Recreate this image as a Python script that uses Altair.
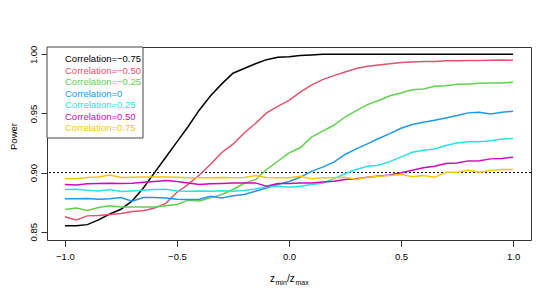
import altair as alt
import pandas as pd

# ---- data ----
z_ratio = [round(-1 + 0.05 * i, 2) for i in range(41)]

power_m075 = [0.855, 0.855, 0.856, 0.860, 0.865, 0.869, 0.876, 0.887, 0.900, 0.913,
              0.926, 0.939, 0.953, 0.965, 0.975, 0.984, 0.988, 0.992, 0.9955, 0.9975,
              0.998, 0.999, 0.9995, 1.0, 1.0, 1.0, 1.0, 1.0, 1.0, 1.0,
              1.0, 1.0, 1.0, 1.0, 1.0, 1.0, 1.0, 1.0, 1.0, 1.0, 1.0]
power_m050 = [0.8626, 0.860, 0.8634, 0.8637, 0.8646, 0.8654, 0.867, 0.8677, 0.870, 0.874,
              0.8834, 0.890, 0.898, 0.907, 0.917, 0.924, 0.9335, 0.9415, 0.9505, 0.956,
              0.961, 0.968, 0.974, 0.9786, 0.982, 0.985, 0.988, 0.990, 0.991, 0.992,
              0.993, 0.9935, 0.994, 0.994, 0.9945, 0.9945, 0.9947, 0.9947, 0.995, 0.9952, 0.995]
power_m025 = [0.8688, 0.870, 0.868, 0.8705, 0.872, 0.871, 0.871, 0.871, 0.871, 0.872,
              0.873, 0.8767, 0.876, 0.8786, 0.8815, 0.8857, 0.891, 0.894, 0.9026, 0.9096,
              0.9167, 0.921, 0.930, 0.935, 0.940, 0.947, 0.9524, 0.9575, 0.961, 0.965,
              0.9673, 0.970, 0.9707, 0.973, 0.9735, 0.9747, 0.975, 0.9755, 0.9758, 0.9758, 0.9764]
power_0 = [0.8778, 0.8778, 0.878, 0.8775, 0.8778, 0.879, 0.8758, 0.879, 0.879, 0.8785,
           0.8775, 0.8773, 0.8775, 0.880, 0.8785, 0.8805, 0.8815, 0.8843, 0.887, 0.890,
           0.8925, 0.896, 0.901, 0.9046, 0.9088, 0.9153, 0.920, 0.9243, 0.9288, 0.933,
           0.9375, 0.9406, 0.9426, 0.9443, 0.9462, 0.9482, 0.9505, 0.951, 0.9496, 0.951, 0.9519]
power_p025 = [0.8857, 0.886, 0.885, 0.8845, 0.8857, 0.884, 0.8845, 0.885, 0.8857, 0.886,
              0.8845, 0.8843, 0.8845, 0.8843, 0.8847, 0.8843, 0.8848, 0.8862, 0.888, 0.8885,
              0.8877, 0.8885, 0.890, 0.891, 0.8947, 0.899, 0.9026, 0.9054, 0.9062, 0.9093,
              0.9133, 0.9172, 0.9189, 0.920, 0.9229, 0.9251, 0.926, 0.926, 0.927, 0.9285, 0.9288]
power_p050 = [0.890, 0.8896, 0.8905, 0.8908, 0.891, 0.8908, 0.891, 0.8919, 0.8925, 0.8933,
              0.8925, 0.8913, 0.890, 0.8905, 0.8908, 0.8913, 0.8913, 0.8913, 0.8885, 0.8908,
              0.8908, 0.8913, 0.8913, 0.892, 0.8927, 0.8942, 0.8947, 0.896, 0.8972, 0.898,
              0.8998, 0.902, 0.904, 0.9054, 0.9077, 0.9082, 0.9099, 0.910, 0.9116, 0.912, 0.913]
power_p075 = [0.895, 0.8948, 0.8958, 0.8962, 0.898, 0.8958, 0.896, 0.8962, 0.8962, 0.8962,
              0.896, 0.8956, 0.8956, 0.8956, 0.8958, 0.8956, 0.8958, 0.8975, 0.8958, 0.8956,
              0.8956, 0.897, 0.8947, 0.8956, 0.8956, 0.896, 0.8942, 0.896, 0.897, 0.8975,
              0.8984, 0.8964, 0.8975, 0.896, 0.9003, 0.9003, 0.902, 0.9003, 0.9017, 0.9026, 0.9026]

series_labels = ["Correlation=\u22120.75", "Correlation=\u22120.50", "Correlation=\u22120.25",
                 "Correlation=0", "Correlation=0.25", "Correlation=0.50", "Correlation=0.75"]
series_colors = ["#000000", "#DF536B", "#61D04F", "#2297E6", "#28E2E5", "#CD0BBC", "#F5C710"]
series_values = [power_m075, power_m050, power_m025, power_0, power_p025, power_p050, power_p075]

reference_power = [0.9]
x_ticks = [-1.0, -0.5, 0.0, 0.5, 1.0]
y_ticks = [0.85, 0.90, 0.95, 1.00]
y_title = "Power"
xtitle_parts = ["z", "min", "/z", "max"]

FONT = "Liberation Sans"

rows = []
for lab, vals in zip(series_labels, series_values):
    for xv, yv in zip(z_ratio, vals):
        rows.append({"label": lab, "z": xv, "power": yv})
df = pd.DataFrame(rows)

color_scale = alt.Scale(domain=series_labels, range=series_colors)
x_scale = alt.Scale(domain=[-1.08, 1.08], nice=False, zero=False)
y_scale = alt.Scale(domain=[0.8430, 1.0062], nice=False, zero=False)

lines = alt.Chart(df).mark_line(strokeWidth=1.5, clip=True).encode(
    x=alt.X("z:Q", scale=x_scale,
            axis=alt.Axis(values=x_ticks, format=".1f", title=None, grid=False, domain=False,
                          tickSize=6, tickColor="#333", labelFontSize=9.5, labelFont=FONT,
                          labelColor="#000", labelPadding=5)),
    y=alt.Y("power:Q", scale=y_scale,
            axis=alt.Axis(values=y_ticks, format=".2f", title=y_title, grid=False, domain=False,
                          tickSize=6, tickColor="#333", labelFontSize=9.5, labelFont=FONT,
                          labelColor="#000", labelAngle=270, labelAlign="center",
                          labelBaseline="bottom", labelPadding=3,
                          titleFont=FONT, titleFontSize=9.5, titleFontWeight="normal",
                          titleColor="#000", titleAngle=270, titleX=-34, titleY=89,
                          titleAlign="center", titleBaseline="middle")),
    color=alt.Color("label:N", scale=color_scale, legend=None),
    detail="label:N",
)

rule = alt.Chart(pd.DataFrame({"p": reference_power})).mark_rule(
    color="#000", strokeDash=[2, 2], strokeWidth=1
).encode(y=alt.Y("p:Q", scale=y_scale))

main = alt.layer(rule, lines)

leg_df = pd.DataFrame({"label": series_labels, "idx": list(range(len(series_labels)))})
leg_box = alt.Chart(pd.DataFrame({"a": [0]})).mark_rect(
    fill="white", stroke="#444", strokeWidth=1
).encode(x=alt.value(0), x2=alt.value(96), y=alt.value(0), y2=alt.value(91))
leg_text = alt.Chart(leg_df).mark_text(
    align="left", baseline="middle", font=FONT, fontSize=9.5
).encode(
    x=alt.value(18),
    y=alt.Y("idx:O", scale=alt.Scale(type="point", range=[12, 81.3], padding=0), axis=None),
    text="label:N",
    color=alt.Color("label:N", scale=color_scale, legend=None),
)

one = pd.DataFrame({"a": [0]})
t_z1 = alt.Chart(one).mark_text(align="left", baseline="alphabetic", font=FONT, fontSize=10,
                                color="#000").encode(x=alt.value(223), y=alt.value(235),
                                                     text=alt.value(xtitle_parts[0]))
t_s1 = alt.Chart(one).mark_text(align="left", baseline="alphabetic", font=FONT, fontSize=7,
                                color="#000").encode(x=alt.value(228.5), y=alt.value(238),
                                                     text=alt.value(xtitle_parts[1]))
t_z2 = alt.Chart(one).mark_text(align="left", baseline="alphabetic", font=FONT, fontSize=10,
                                color="#000").encode(x=alt.value(240), y=alt.value(235),
                                                     text=alt.value(xtitle_parts[2]))
t_s2 = alt.Chart(one).mark_text(align="left", baseline="alphabetic", font=FONT, fontSize=7,
                                color="#000").encode(x=alt.value(248.5), y=alt.value(238),
                                                     text=alt.value(xtitle_parts[3]))

chart = alt.layer(main, leg_box, leg_text, t_z1, t_s1, t_z2, t_s2).resolve_scale(
    y="independent"
).properties(
    width=484, height=193, autosize="none",
    padding={"left": 39, "top": 39, "right": 16, "bottom": 51},
    background="white",
).configure_view(stroke="#333", strokeWidth=1)

chart.save("out.html", embed_options={"renderer": "svg", "actions": False})
